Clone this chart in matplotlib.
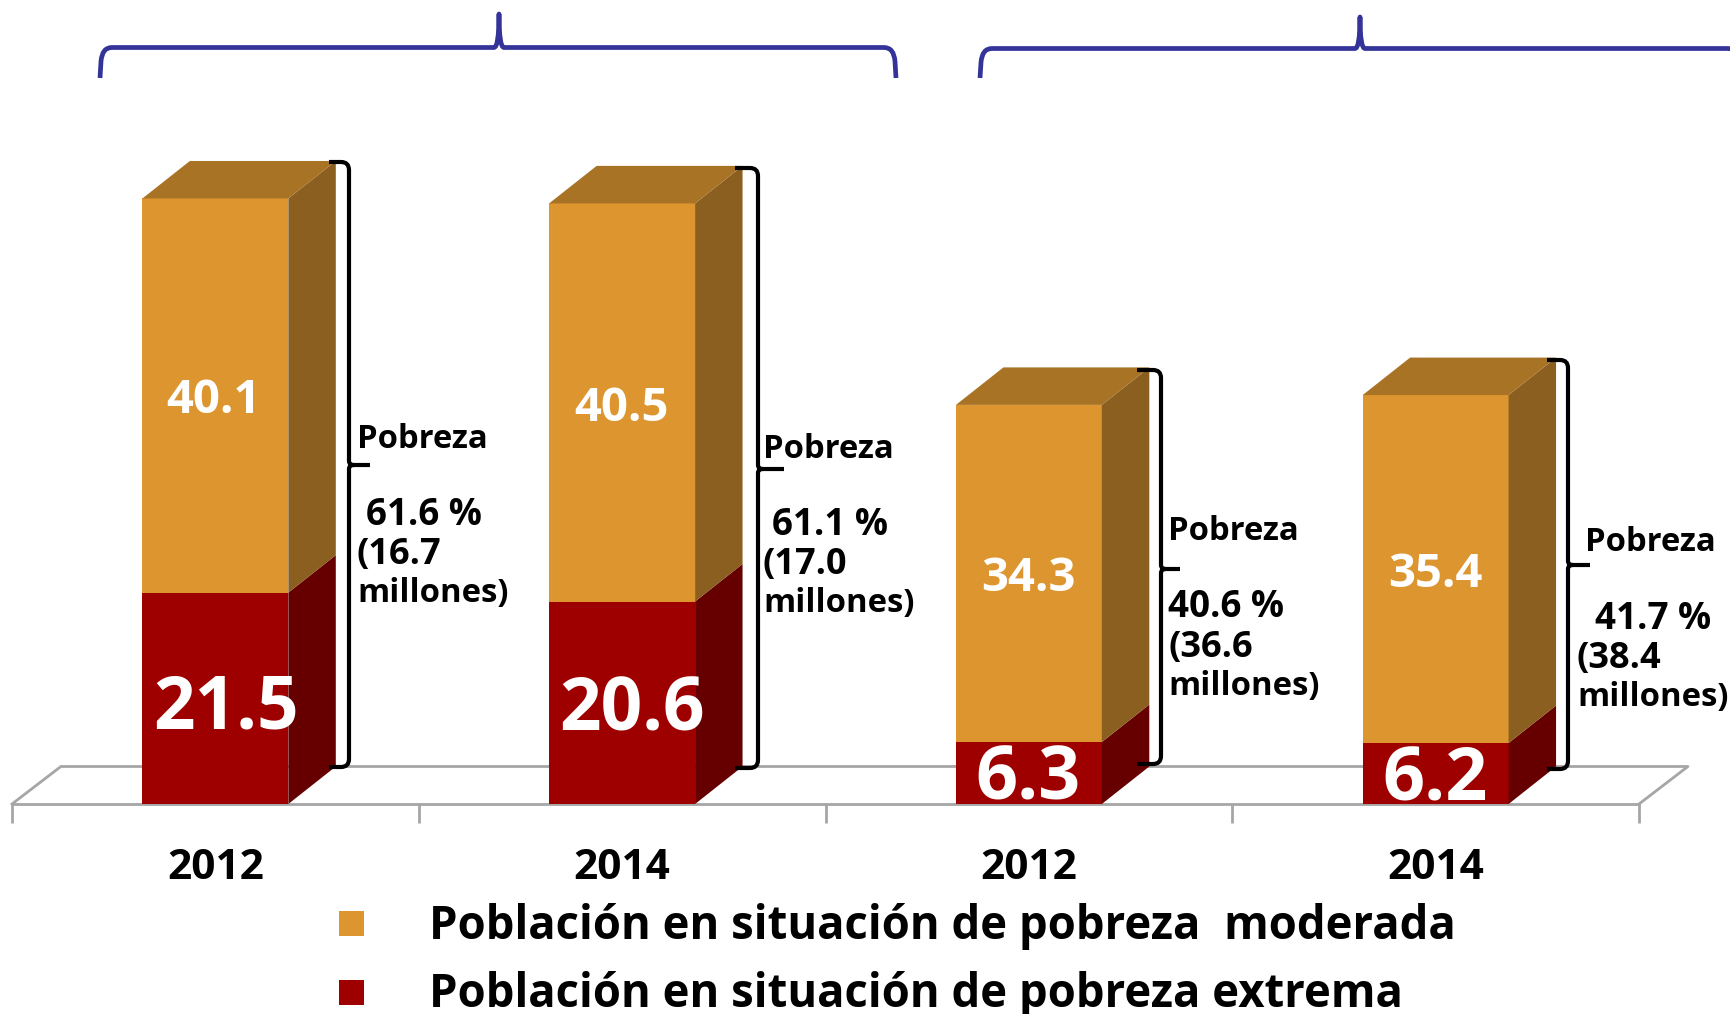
import matplotlib
matplotlib.use('Agg')
import matplotlib.pyplot as plt
from matplotlib.patches import PathPatch, Polygon, Rectangle
from matplotlib.path import Path

WIDTH, HEIGHT = 1731, 1014
BASE_Y = 804
PX_PER_UNIT = 9.83

# values
years = ['2012', '2014', '2012', '2014']
moderada = [40.1, 40.5, 34.3, 35.4]
extrema = [21.5, 20.6, 6.3, 6.2]
pobreza_pct = ['61.6 %', '61.1 %', '40.6 %', '41.7 %']
pobreza_mill = ['(16.7', '(17.0', '(36.6', '(38.4']
legend_labels = ['Población en situación de pobreza  moderada',
                 'Población en situación de pobreza extrema']

ORANGE = '#DD9530'
ORANGE_SIDE = '#8B5F1F'
ORANGE_TOP = '#A97326'
RED = '#9E0000'
RED_SIDE = '#660000'
GREY = '#A6A6A6'
BLUE = '#333399'

plt.rcParams['font.family'] = ['Open Sans', 'DejaVu Sans']
plt.rcParams['font.weight'] = 'bold'


def px(x, y):
    # picture pixels (y down) to figure fraction
    return x / WIDTH, 1 - y / HEIGHT


def put(x, y, s, size, color='black', ha='left'):
    # center of a bbox sits above the center of the glyphs
    fig.text(*px(x, y + 0.13 * size), s, fontsize=size, color=color, ha=ha, va='center',
             fontweight='bold')


def draw_path(verts, codes, color, lw):
    path = Path([px(*v) for v in verts], codes)
    fig.add_artist(PathPatch(path, fc='none', ec=color, lw=lw, capstyle='butt',
                             joinstyle='round', transform=fig.transFigure, zorder=5))


def side_brace(xl, xv, xt, yt, ym, yb):
    verts = [(xl, yt), (xv - 8, yt), (xv, yt), (xv, yt + 8), (xv, ym - 4), (xv, ym), (xv + 5, ym), (xt, ym),
             (xv + 5, ym), (xv, ym), (xv, ym + 4), (xv, yb - 8), (xv, yb), (xv - 8, yb), (xl, yb)]
    codes = [Path.MOVETO, Path.LINETO, Path.CURVE3, Path.CURVE3, Path.LINETO, Path.CURVE3, Path.CURVE3, Path.LINETO,
             Path.MOVETO, Path.CURVE3, Path.CURVE3, Path.LINETO, Path.CURVE3, Path.CURVE3, Path.LINETO]
    draw_path(verts, codes, 'black', 3)


def top_brace(x0, tip, x1, ybar, ytip, yend):
    verts = [(x0, yend), (x0 + 1, ybar + 14), (x0 + 2, ybar), (x0 + 12, ybar), (tip - 5, ybar), (tip, ybar), (tip, ytip),
             (tip, ybar), (tip + 5, ybar), (x1 - 12, ybar), (x1 - 2, ybar), (x1 - 1, ybar + 14), (x1, yend)]
    codes = [Path.MOVETO, Path.LINETO, Path.CURVE3, Path.CURVE3, Path.LINETO, Path.CURVE3, Path.CURVE3,
             Path.CURVE3, Path.CURVE3, Path.LINETO, Path.CURVE3, Path.CURVE3, Path.LINETO]
    draw_path(verts, codes, BLUE, 3.4)


fig = plt.figure(figsize=(WIDTH / 100, HEIGHT / 100), dpi=100)
ax = fig.add_axes([12 / WIDTH, 1 - BASE_Y / HEIGHT, 1627 / WIDTH, BASE_Y / HEIGHT])
ax.set_xlim(-0.5, 3.5)
ax.set_ylim(0, BASE_Y / PX_PER_UNIT)
ax.patch.set_alpha(0)

positions = list(range(len(years)))
bar_w = 146 / 407
dx = 47.5 / 407
dy = 37.5 / PX_PER_UNIT

# floor of the 3d chart
floor_x = [-0.5, -0.5 + dx * 1.03, 3.5 + dx * 1.03, 3.5]
floor_y = [0, dy, dy, 0]
ax.plot(floor_x, floor_y, color=GREY, lw=2, clip_on=False, zorder=1)

ax.bar(positions, extrema, bar_w, color=RED, zorder=3)
ax.bar(positions, moderada, bar_w, bottom=extrema, color=ORANGE, zorder=3)

for p, e, m in zip(positions, extrema, moderada):
    r = p + bar_w / 2
    l = p - bar_w / 2
    total = e + m
    ax.add_patch(Polygon([(r, 0), (r + dx, dy), (r + dx, e + dy), (r, e)], fc=RED_SIDE, ec='none', zorder=3))
    ax.add_patch(Polygon([(r, e), (r + dx, e + dy), (r + dx, total + dy), (r, total)], fc=ORANGE_SIDE, ec='none', zorder=3))
    ax.add_patch(Polygon([(l, total), (l + dx, total + dy), (r + dx, total + dy), (r, total)], fc=ORANGE_TOP, ec='none', zorder=3))

for s in ['top', 'left', 'right']:
    ax.spines[s].set_visible(False)
ax.spines['bottom'].set_color(GREY)
ax.spines['bottom'].set_linewidth(2)
ax.set_yticks([])
ax.set_xticks(positions, years, fontsize=30.5, fontweight='bold')
ax.tick_params(axis='x', which='major', length=0, pad=31.5)
ax.set_xticks([-0.5, 0.5, 1.5, 2.5, 3.5], minor=True)
ax.tick_params(axis='x', which='minor', length=14, width=2, color=GREY)

# value labels
mod_xy = [(214, 396), (621, 404), (1028, 574), (1435, 570)]
ext_xy = [(226, 703), (632, 705), (1028, 774), (1435, 775)]
for (x, y), v in zip(mod_xy, moderada):
    put(x, y, f'{v}', 34, 'white', 'center')
for (x, y), v in zip(ext_xy, extrema):
    put(x, y, f'{v}', 52.5 if v > 10 else 53, 'white', 'center')

# black braces right of the bars
side_brace(329, 349, 370, 162, 465, 767)
side_brace(735, 758, 784, 168, 469, 768)
side_brace(1137, 1161, 1180, 370, 569, 764)
side_brace(1547, 1568, 1590, 360, 565, 769)

# notes beside the braces
note_x = [(357, 366, 357, 357), (763, 772, 763, 763), (1168, 1168, 1168, 1168), (1585, 1595, 1577, 1577)]
note_y = [(436, 512, 552, 590), (446, 522, 562, 600), (528, 604, 645, 683), (539, 616, 656, 694)]
for i in positions:
    xs, ys = note_x[i], note_y[i]
    put(xs[0], ys[0], 'Pobreza', 23.6)
    put(xs[1], ys[1], pobreza_pct[i], 26.5)
    put(xs[2], ys[2], pobreza_mill[i], 26)
    put(xs[3], ys[3], 'millones)', 23.7)

# blue braces on top, the second runs off the picture
top_brace(100, 499, 896, 47.5, 14, 78)
top_brace(980, 1360, 1740, 48.5, 17, 78)

# legend
for y, color, label, ty in zip([911, 980], [ORANGE, RED], legend_labels, [922, 990]):
    fig.add_artist(Rectangle(px(339, y + 25), 25 / WIDTH, 25 / HEIGHT, fc=color, ec='none',
                             transform=fig.transFigure))
    put(429, ty, label, 32.8)

fig.savefig('out.png', dpi=100)
